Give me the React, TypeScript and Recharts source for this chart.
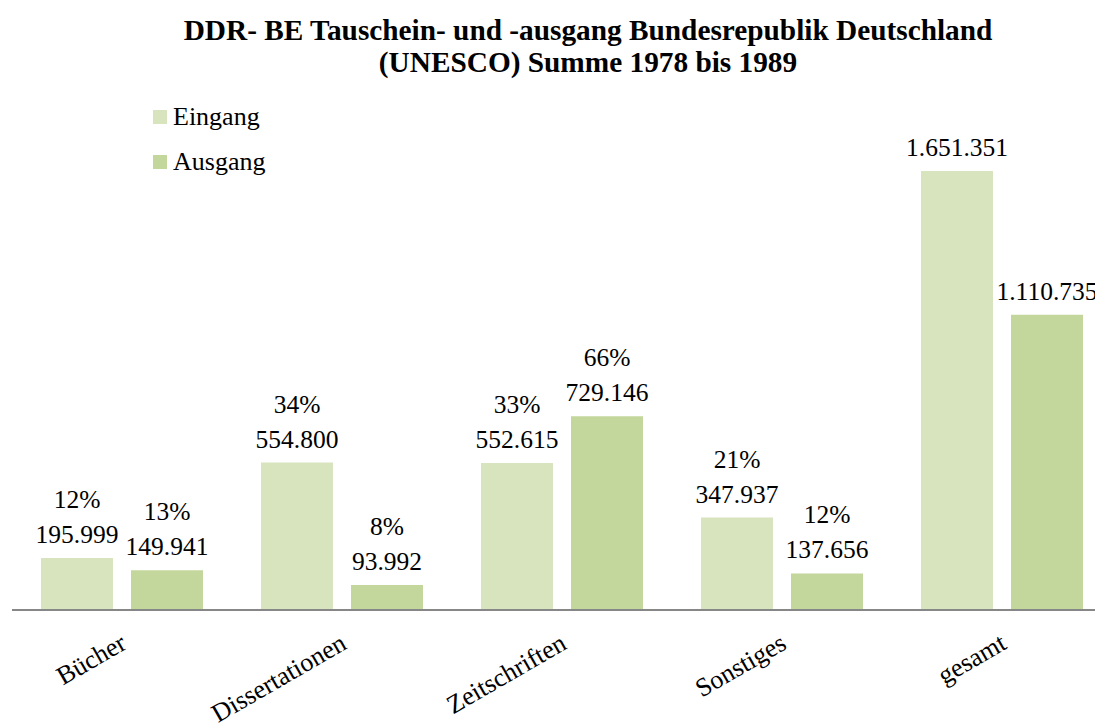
import React from 'react';
import { BarChart, Bar, XAxis, YAxis, Legend, LabelList } from 'recharts';

const categories = ['Bücher', 'Dissertationen', 'Zeitschriften', 'Sonstiges', 'gesamt'];
const eingang = [195999, 554800, 552615, 347937, 1651351];
const ausgang = [149941, 93992, 729146, 137656, 1110735];
const eingangPct = ['12%', '34%', '33%', '21%', ''];
const ausgangPct = ['13%', '8%', '66%', '12%', ''];

const data = categories.map((c, i) => ({
  name: c,
  Eingang: eingang[i],
  Ausgang: ausgang[i],
}));

const COLOR_IN = '#D7E4BD';
const COLOR_OUT = '#C3D69B';
const FONT = '"Liberation Serif", "Times New Roman", serif';

const fmt = (v: number) => v.toString().replace(/\B(?=(\d{3})+(?!\d))/g, '.');

const makeLabel = (pcts: string[]) => (props: any) => {
  const { x, y, width, value, index } = props;
  const cx = x + width / 2;
  return (
    <g>
      {pcts[index] ? (
        <text x={cx} y={y - 50} textAnchor="middle" fontFamily={FONT} fontSize={25.5} fill="#000">
          {pcts[index]}
        </text>
      ) : null}
      <text x={cx} y={y - 15} textAnchor="middle" fontFamily={FONT} fontSize={25.5} fill="#000">
        {fmt(value)}
      </text>
    </g>
  );
};

const Tick = (props: any) => {
  const { x, y, payload } = props;
  const ax = x + 6;
  const ay = y + 30;
  return (
    <text
      x={ax}
      y={ay}
      textAnchor="end"
      transform={`rotate(-30, ${ax}, ${ay})`}
      fontFamily={FONT}
      fontSize={26}
      fill="#000"
    >
      {payload.value}
    </text>
  );
};

const LegendContent = () => (
  <div style={{ fontFamily: FONT, fontSize: 26, color: '#000' }}>
    {[
      { label: 'Eingang', color: COLOR_IN },
      { label: 'Ausgang', color: COLOR_OUT },
    ].map((it, i) => (
      <div key={i} style={{ display: 'flex', alignItems: 'center', height: 45 }}>
        <div style={{ width: 14, height: 14, background: it.color, marginRight: 6 }} />
        <span>{it.label}</span>
      </div>
    ))}
  </div>
);

export default function App() {
  return (
    <div style={{ position: 'relative', width: 1095, height: 719, overflow: 'hidden' }}>
      <div
        style={{
          position: 'absolute',
          left: 130,
          width: 900,
          top: 6,
          textAlign: 'center',
          fontFamily: FONT,
          fontWeight: 'bold',
          fontSize: 29.3,
          lineHeight: '32px',
          color: '#000',
          zIndex: 2,
        }}
      >
        DDR- BE Tauschein- und -ausgang Bundesrepublik Deutschland
        <br />
        (UNESCO) Summe 1978 bis 1989
      </div>
      <BarChart
        width={1104}
        height={719}
        data={data}
        margin={{ top: 123.5, right: 0, left: 4, bottom: 7 }}
        barGap={18}
        barSize={72}
      >
        <XAxis
          dataKey="name"
          height={110}
          axisLine={{ stroke: '#878787', strokeWidth: 2 }}
          tickLine={false}
          tick={<Tick />}
          interval={0}
        />
        <YAxis hide width={0} domain={[0, 1800000]} />
        <Legend
          layout="vertical"
          verticalAlign="middle"
          align="center"
          wrapperStyle={{ position: 'absolute', left: 145, top: 86, width: 'auto', height: 'auto' }}
          content={<LegendContent />}
        />
        <Bar dataKey="Eingang" fill={COLOR_IN} isAnimationActive={false}>
          <LabelList dataKey="Eingang" content={makeLabel(eingangPct)} />
        </Bar>
        <Bar dataKey="Ausgang" fill={COLOR_OUT} isAnimationActive={false}>
          <LabelList dataKey="Ausgang" content={makeLabel(ausgangPct)} />
        </Bar>
      </BarChart>
    </div>
  );
}
